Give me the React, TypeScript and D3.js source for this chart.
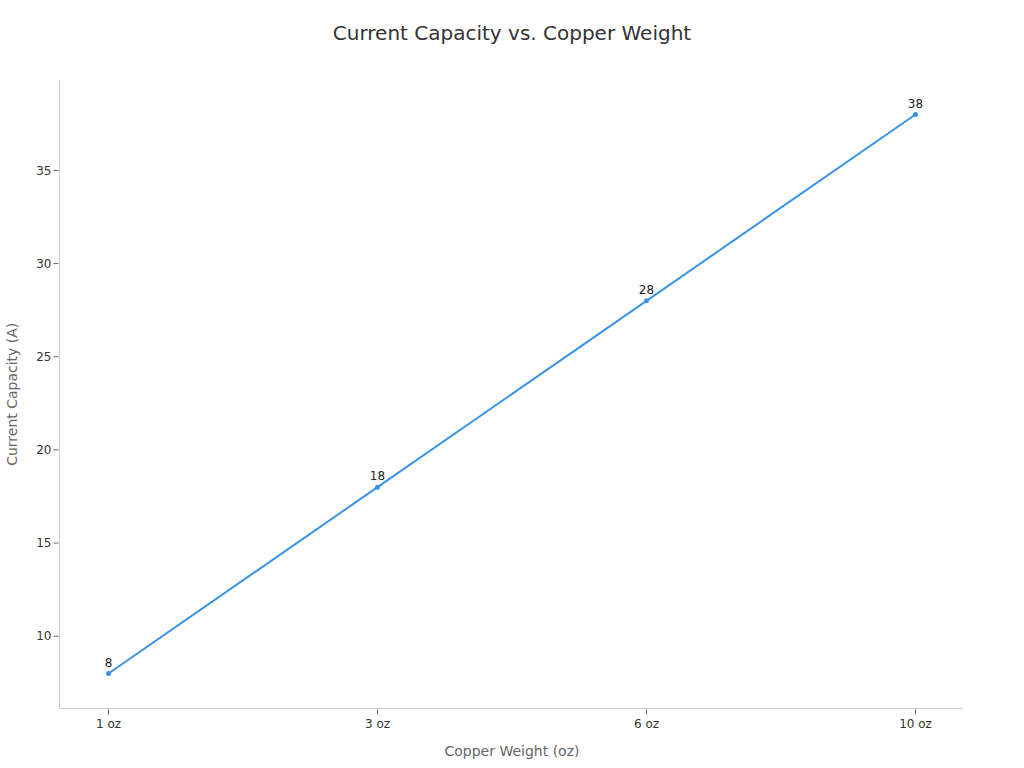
import React from "react";
import * as d3 from "d3";

const categories = ["1 oz", "3 oz", "6 oz", "10 oz"];
const values = [8, 18, 28, 38];
const yTicks = [10, 15, 20, 25, 30, 35];

const W = 1024;
const H = 768;
const left = 59.5;
const right = 963;
const top = 80;
const bottom = 708.5;
const FONT = "DejaVu Sans, sans-serif";

export default function App() {
  const x = d3.scalePoint<string>().domain(categories).range([108.5, 915.5]).padding(0);
  const y = d3.scaleLinear().domain([8, 38]).range([673.5, 114.5]);
  const line = d3
    .line<number>()
    .x((_, i) => x(categories[i]) as number)
    .y((d) => y(d));

  return (
    <svg
      width={W}
      height={H}
      style={{ position: "absolute", left: 0, top: 0, background: "#fff" }}
      fontFamily={FONT}
    >
      <text x={512} y={40} textAnchor="middle" fontSize={20} fill="#333">
        Current Capacity vs. Copper Weight
      </text>
      {/* axes */}
      <line x1={left} x2={left} y1={top} y2={bottom} stroke="#ccc" strokeWidth={1} />
      <line x1={left} x2={right} y1={bottom} y2={bottom} stroke="#ccc" strokeWidth={1} />
      {yTicks.map((t) => (
        <g key={t} transform={`translate(0,${y(t)})`}>
          <line x1={left - 6} x2={left - 1} stroke="#666" />
          <text x={left - 8} dy="0.35em" textAnchor="end" fontSize={12} fill="#333">
            {t}
          </text>
        </g>
      ))}
      {categories.map((c) => (
        <g key={c} transform={`translate(${x(c)},0)`}>
          <line y1={bottom + 1} y2={bottom + 6} stroke="#666" />
          <text y={bottom + 19} textAnchor="middle" fontSize={12} fill="#333">
            {c}
          </text>
        </g>
      ))}
      <text x={512} y={756} textAnchor="middle" fontSize={14} fill="#666">
        Copper Weight (oz)
      </text>
      <text
        transform={`translate(17,${(top + bottom) / 2}) rotate(-90)`}
        textAnchor="middle"
        fontSize={14}
        fill="#666"
      >
        Current Capacity (A)
      </text>
      <path d={line(values) || ""} fill="none" stroke="#3a93e6" strokeWidth={2} />
      {values.map((v, i) => (
        <g key={i}>
          <circle cx={x(categories[i])} cy={y(v)} r={2.5} fill="#3a93e6" />
          <text x={x(categories[i])} y={y(v) - 7} textAnchor="middle" fontSize={12} fill="#222">
            {v}
          </text>
        </g>
      ))}
    </svg>
  );
}
